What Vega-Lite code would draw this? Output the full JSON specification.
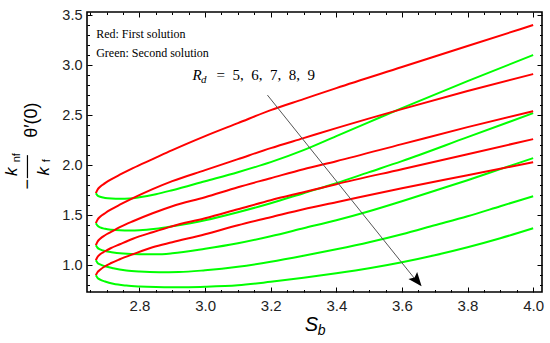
{
"$schema": "https://vega.github.io/schema/vega-lite/v6.json",
"width": 455, "height": 280,
"autosize": {"type": "none"},
"padding": {"left": 87, "top": 12, "right": 8, "bottom": 51},
"background": "white",
"config": {"view": {"stroke": "black", "strokeWidth": 1.6}},
"datasets": {
"curves": [
{"Rd":5,"branch":"First","Sb":2.667,"value":1.72},{"Rd":5,"branch":"First","Sb":2.672,"value":1.755},{"Rd":5,"branch":"First","Sb":2.68,"value":1.785},{"Rd":5,"branch":"First","Sb":2.695,"value":1.82},{"Rd":5,"branch":"First","Sb":2.712,"value":1.855},{"Rd":5,"branch":"First","Sb":2.74,"value":1.905},{"Rd":5,"branch":"First","Sb":2.78,"value":1.97},{"Rd":5,"branch":"First","Sb":2.84,"value":2.06},{"Rd":5,"branch":"First","Sb":2.9,"value":2.15},{"Rd":5,"branch":"First","Sb":3.0,"value":2.29},{"Rd":5,"branch":"First","Sb":3.1,"value":2.42},{"Rd":5,"branch":"First","Sb":3.2,"value":2.55},{"Rd":5,"branch":"First","Sb":3.3,"value":2.66},{"Rd":5,"branch":"First","Sb":3.4,"value":2.77},{"Rd":5,"branch":"First","Sb":3.6,"value":2.98},{"Rd":5,"branch":"First","Sb":3.8,"value":3.19},{"Rd":5,"branch":"First","Sb":4.0,"value":3.40},
{"Rd":5,"branch":"Second","Sb":2.667,"value":1.72},{"Rd":5,"branch":"Second","Sb":2.672,"value":1.697},{"Rd":5,"branch":"Second","Sb":2.68,"value":1.684},{"Rd":5,"branch":"Second","Sb":2.695,"value":1.673},{"Rd":5,"branch":"Second","Sb":2.715,"value":1.667},{"Rd":5,"branch":"Second","Sb":2.74,"value":1.665},{"Rd":5,"branch":"Second","Sb":2.77,"value":1.668},{"Rd":5,"branch":"Second","Sb":2.8,"value":1.68},{"Rd":5,"branch":"Second","Sb":2.85,"value":1.71},{"Rd":5,"branch":"Second","Sb":2.9,"value":1.75},{"Rd":5,"branch":"Second","Sb":3.0,"value":1.84},{"Rd":5,"branch":"Second","Sb":3.1,"value":1.93},{"Rd":5,"branch":"Second","Sb":3.2,"value":2.03},{"Rd":5,"branch":"Second","Sb":3.3,"value":2.15},{"Rd":5,"branch":"Second","Sb":3.4,"value":2.29},{"Rd":5,"branch":"Second","Sb":3.5,"value":2.43},{"Rd":5,"branch":"Second","Sb":3.6,"value":2.57},{"Rd":5,"branch":"Second","Sb":3.8,"value":2.84},{"Rd":5,"branch":"Second","Sb":4.0,"value":3.10},
{"Rd":6,"branch":"First","Sb":2.667,"value":1.42},{"Rd":6,"branch":"First","Sb":2.672,"value":1.455},{"Rd":6,"branch":"First","Sb":2.68,"value":1.485},{"Rd":6,"branch":"First","Sb":2.695,"value":1.52},{"Rd":6,"branch":"First","Sb":2.712,"value":1.555},{"Rd":6,"branch":"First","Sb":2.74,"value":1.605},{"Rd":6,"branch":"First","Sb":2.78,"value":1.67},{"Rd":6,"branch":"First","Sb":2.84,"value":1.76},{"Rd":6,"branch":"First","Sb":2.9,"value":1.84},{"Rd":6,"branch":"First","Sb":3.0,"value":1.95},{"Rd":6,"branch":"First","Sb":3.1,"value":2.06},{"Rd":6,"branch":"First","Sb":3.2,"value":2.17},{"Rd":6,"branch":"First","Sb":3.3,"value":2.27},{"Rd":6,"branch":"First","Sb":3.4,"value":2.37},{"Rd":6,"branch":"First","Sb":3.6,"value":2.56},{"Rd":6,"branch":"First","Sb":3.8,"value":2.74},{"Rd":6,"branch":"First","Sb":4.0,"value":2.91},
{"Rd":6,"branch":"Second","Sb":2.667,"value":1.42},{"Rd":6,"branch":"Second","Sb":2.672,"value":1.395},{"Rd":6,"branch":"Second","Sb":2.68,"value":1.378},{"Rd":6,"branch":"Second","Sb":2.695,"value":1.364},{"Rd":6,"branch":"Second","Sb":2.715,"value":1.355},{"Rd":6,"branch":"Second","Sb":2.74,"value":1.35},{"Rd":6,"branch":"Second","Sb":2.77,"value":1.348},{"Rd":6,"branch":"Second","Sb":2.8,"value":1.35},{"Rd":6,"branch":"Second","Sb":2.85,"value":1.365},{"Rd":6,"branch":"Second","Sb":2.9,"value":1.39},{"Rd":6,"branch":"Second","Sb":3.0,"value":1.45},{"Rd":6,"branch":"Second","Sb":3.1,"value":1.53},{"Rd":6,"branch":"Second","Sb":3.2,"value":1.62},{"Rd":6,"branch":"Second","Sb":3.3,"value":1.72},{"Rd":6,"branch":"Second","Sb":3.4,"value":1.82},{"Rd":6,"branch":"Second","Sb":3.5,"value":1.93},{"Rd":6,"branch":"Second","Sb":3.6,"value":2.04},{"Rd":6,"branch":"Second","Sb":3.8,"value":2.28},{"Rd":6,"branch":"Second","Sb":4.0,"value":2.52},
{"Rd":7,"branch":"First","Sb":2.667,"value":1.20},{"Rd":7,"branch":"First","Sb":2.672,"value":1.235},{"Rd":7,"branch":"First","Sb":2.68,"value":1.265},{"Rd":7,"branch":"First","Sb":2.695,"value":1.30},{"Rd":7,"branch":"First","Sb":2.712,"value":1.33},{"Rd":7,"branch":"First","Sb":2.74,"value":1.38},{"Rd":7,"branch":"First","Sb":2.78,"value":1.44},{"Rd":7,"branch":"First","Sb":2.84,"value":1.52},{"Rd":7,"branch":"First","Sb":2.9,"value":1.59},{"Rd":7,"branch":"First","Sb":3.0,"value":1.68},{"Rd":7,"branch":"First","Sb":3.1,"value":1.78},{"Rd":7,"branch":"First","Sb":3.2,"value":1.87},{"Rd":7,"branch":"First","Sb":3.3,"value":1.96},{"Rd":7,"branch":"First","Sb":3.4,"value":2.04},{"Rd":7,"branch":"First","Sb":3.6,"value":2.21},{"Rd":7,"branch":"First","Sb":3.8,"value":2.38},{"Rd":7,"branch":"First","Sb":4.0,"value":2.54},
{"Rd":7,"branch":"Second","Sb":2.667,"value":1.20},{"Rd":7,"branch":"Second","Sb":2.672,"value":1.175},{"Rd":7,"branch":"Second","Sb":2.68,"value":1.158},{"Rd":7,"branch":"Second","Sb":2.695,"value":1.142},{"Rd":7,"branch":"Second","Sb":2.715,"value":1.13},{"Rd":7,"branch":"Second","Sb":2.75,"value":1.117},{"Rd":7,"branch":"Second","Sb":2.8,"value":1.11},{"Rd":7,"branch":"Second","Sb":2.85,"value":1.11},{"Rd":7,"branch":"Second","Sb":2.9,"value":1.12},{"Rd":7,"branch":"Second","Sb":3.0,"value":1.165},{"Rd":7,"branch":"Second","Sb":3.1,"value":1.22},{"Rd":7,"branch":"Second","Sb":3.2,"value":1.29},{"Rd":7,"branch":"Second","Sb":3.3,"value":1.37},{"Rd":7,"branch":"Second","Sb":3.4,"value":1.45},{"Rd":7,"branch":"Second","Sb":3.5,"value":1.54},{"Rd":7,"branch":"Second","Sb":3.6,"value":1.64},{"Rd":7,"branch":"Second","Sb":3.7,"value":1.745},{"Rd":7,"branch":"Second","Sb":3.8,"value":1.85},{"Rd":7,"branch":"Second","Sb":3.9,"value":1.96},{"Rd":7,"branch":"Second","Sb":4.0,"value":2.07},
{"Rd":8,"branch":"First","Sb":2.667,"value":1.05},{"Rd":8,"branch":"First","Sb":2.672,"value":1.082},{"Rd":8,"branch":"First","Sb":2.68,"value":1.11},{"Rd":8,"branch":"First","Sb":2.695,"value":1.14},{"Rd":8,"branch":"First","Sb":2.712,"value":1.17},{"Rd":8,"branch":"First","Sb":2.74,"value":1.21},{"Rd":8,"branch":"First","Sb":2.78,"value":1.265},{"Rd":8,"branch":"First","Sb":2.84,"value":1.33},{"Rd":8,"branch":"First","Sb":2.9,"value":1.39},{"Rd":8,"branch":"First","Sb":3.0,"value":1.47},{"Rd":8,"branch":"First","Sb":3.1,"value":1.56},{"Rd":8,"branch":"First","Sb":3.2,"value":1.65},{"Rd":8,"branch":"First","Sb":3.3,"value":1.73},{"Rd":8,"branch":"First","Sb":3.4,"value":1.81},{"Rd":8,"branch":"First","Sb":3.6,"value":1.96},{"Rd":8,"branch":"First","Sb":3.8,"value":2.11},{"Rd":8,"branch":"First","Sb":4.0,"value":2.26},
{"Rd":8,"branch":"Second","Sb":2.667,"value":1.05},{"Rd":8,"branch":"Second","Sb":2.672,"value":1.025},{"Rd":8,"branch":"Second","Sb":2.68,"value":1.008},{"Rd":8,"branch":"Second","Sb":2.695,"value":0.99},{"Rd":8,"branch":"Second","Sb":2.72,"value":0.97},{"Rd":8,"branch":"Second","Sb":2.76,"value":0.948},{"Rd":8,"branch":"Second","Sb":2.8,"value":0.937},{"Rd":8,"branch":"Second","Sb":2.86,"value":0.93},{"Rd":8,"branch":"Second","Sb":2.92,"value":0.932},{"Rd":8,"branch":"Second","Sb":3.0,"value":0.95},{"Rd":8,"branch":"Second","Sb":3.1,"value":0.985},{"Rd":8,"branch":"Second","Sb":3.2,"value":1.035},{"Rd":8,"branch":"Second","Sb":3.3,"value":1.095},{"Rd":8,"branch":"Second","Sb":3.4,"value":1.16},{"Rd":8,"branch":"Second","Sb":3.5,"value":1.23},{"Rd":8,"branch":"Second","Sb":3.6,"value":1.31},{"Rd":8,"branch":"Second","Sb":3.7,"value":1.40},{"Rd":8,"branch":"Second","Sb":3.8,"value":1.49},{"Rd":8,"branch":"Second","Sb":3.9,"value":1.59},{"Rd":8,"branch":"Second","Sb":4.0,"value":1.69},
{"Rd":9,"branch":"First","Sb":2.667,"value":0.90},{"Rd":9,"branch":"First","Sb":2.672,"value":0.93},{"Rd":9,"branch":"First","Sb":2.68,"value":0.955},{"Rd":9,"branch":"First","Sb":2.695,"value":0.99},{"Rd":9,"branch":"First","Sb":2.712,"value":1.02},{"Rd":9,"branch":"First","Sb":2.74,"value":1.06},{"Rd":9,"branch":"First","Sb":2.78,"value":1.11},{"Rd":9,"branch":"First","Sb":2.84,"value":1.18},{"Rd":9,"branch":"First","Sb":2.9,"value":1.23},{"Rd":9,"branch":"First","Sb":3.0,"value":1.31},{"Rd":9,"branch":"First","Sb":3.1,"value":1.40},{"Rd":9,"branch":"First","Sb":3.2,"value":1.48},{"Rd":9,"branch":"First","Sb":3.3,"value":1.56},{"Rd":9,"branch":"First","Sb":3.4,"value":1.63},{"Rd":9,"branch":"First","Sb":3.6,"value":1.77},{"Rd":9,"branch":"First","Sb":3.8,"value":1.90},{"Rd":9,"branch":"First","Sb":4.0,"value":2.03},
{"Rd":9,"branch":"Second","Sb":2.667,"value":0.90},{"Rd":9,"branch":"Second","Sb":2.672,"value":0.875},{"Rd":9,"branch":"Second","Sb":2.68,"value":0.857},{"Rd":9,"branch":"Second","Sb":2.695,"value":0.838},{"Rd":9,"branch":"Second","Sb":2.72,"value":0.815},{"Rd":9,"branch":"Second","Sb":2.76,"value":0.797},{"Rd":9,"branch":"Second","Sb":2.8,"value":0.788},{"Rd":9,"branch":"Second","Sb":2.85,"value":0.782},{"Rd":9,"branch":"Second","Sb":2.9,"value":0.78},{"Rd":9,"branch":"Second","Sb":2.95,"value":0.781},{"Rd":9,"branch":"Second","Sb":3.0,"value":0.785},{"Rd":9,"branch":"Second","Sb":3.1,"value":0.80},{"Rd":9,"branch":"Second","Sb":3.2,"value":0.835},{"Rd":9,"branch":"Second","Sb":3.3,"value":0.875},{"Rd":9,"branch":"Second","Sb":3.4,"value":0.92},{"Rd":9,"branch":"Second","Sb":3.5,"value":0.97},{"Rd":9,"branch":"Second","Sb":3.6,"value":1.03},{"Rd":9,"branch":"Second","Sb":3.7,"value":1.10},{"Rd":9,"branch":"Second","Sb":3.8,"value":1.18},{"Rd":9,"branch":"Second","Sb":3.9,"value":1.27},{"Rd":9,"branch":"Second","Sb":4.0,"value":1.37}
],
"notes": [
{"id":"leg","text":"Red: First solution","Sb":2.668,"value":3.267},
{"id":"leg","text":"Green: Second solution","Sb":2.668,"value":3.083},
{"id":"R","text":"R","Sb":2.9616,"value":2.85},
{"id":"d","text":"d","Sb":2.9875,"value":2.82},
{"id":"eq","text":"=\u00a0\u00a05,\u00a0\u00a06,\u00a0\u00a07,\u00a0\u00a08,\u00a0\u00a09","Sb":3.0348,"value":2.85},
{"id":"S","text":"S","Sb":3.3244,"value":0.40},
{"id":"b","text":"b","Sb":3.3549,"value":0.34},
{"id":"theta","text":"θ′(0)","Sb":2.4722,"value":2.45},
{"id":"minus","text":"−","Sb":2.4616,"value":1.81},
{"id":"k","text":"k","Sb":2.4113,"value":1.935},
{"id":"k","text":"k","Sb":2.5104,"value":1.94},
{"id":"sub","text":"nf","Sb":2.428,"value":2.075},
{"id":"sub","text":"f","Sb":2.5195,"value":2.045}
],
"dummy": [{"Sb":3.0,"value":2.0}]
},
"encoding": {
"x": {"field":"Sb","type":"quantitative","scale":{"domain":[2.64,4.027],"nice":false,"zero":false},"axis":null},
"y": {"field":"value","type":"quantitative","scale":{"domain":[0.733,3.53],"nice":false,"zero":false},"axis":null}
},
"resolve": {"axis": {"x":"independent","y":"independent"}},
"layer": [
{"data":{"name":"curves"},
 "mark":{"type":"line","strokeWidth":2,"interpolate":"monotone"},
 "encoding":{
  "x":{"field":"Sb","type":"quantitative","scale":{"domain":[2.64,4.027],"nice":false,"zero":false},
   "axis":{"orient":"bottom","values":[2.8,3.0,3.2,3.4,3.6,3.8,4.0],"format":".1f","tickSize":-5,"tickColor":"black","tickWidth":1,"domain":false,"grid":false,"labelFont":"Liberation Sans","labelFontSize":15,"labelColor":"#222","labelPadding":11,"title":null}},
  "y":{"field":"value","type":"quantitative","scale":{"domain":[0.733,3.53],"nice":false,"zero":false},
   "axis":{"orient":"left","values":[1.0,1.5,2.0,2.5,3.0,3.5],"format":".1f","tickSize":-5,"tickColor":"black","tickWidth":1,"domain":false,"grid":false,"labelFont":"Liberation Sans","labelFontSize":14.5,"labelColor":"#222","labelPadding":10,"title":null}},
  "color":{"field":"branch","type":"nominal","scale":{"domain":["First","Second"],"range":["#ff0000","#00ff00"]},"legend":null},
  "detail":{"field":"Rd","type":"nominal"}
 }},
{"data":{"name":"dummy"},"mark":{"type":"point","opacity":0},
 "encoding":{
  "x":{"field":"Sb","type":"quantitative","scale":{"domain":[2.64,4.027],"nice":false,"zero":false},
   "axis":{"orient":"bottom","values":[2.65,2.7,2.75,2.85,2.9,2.95,3.05,3.1,3.15,3.25,3.3,3.35,3.45,3.5,3.55,3.65,3.7,3.75,3.85,3.9,3.95],"tickSize":-2.5,"tickColor":"black","tickWidth":1,"domain":false,"grid":false,"labels":false,"title":null}},
  "y":{"field":"value","type":"quantitative","scale":{"domain":[0.733,3.53],"nice":false,"zero":false},
   "axis":{"orient":"left","values":[0.8,0.9,1.1,1.2,1.3,1.4,1.6,1.7,1.8,1.9,2.1,2.2,2.3,2.4,2.6,2.7,2.8,2.9,3.1,3.2,3.3,3.4],"tickSize":-2.5,"tickColor":"black","tickWidth":1,"domain":false,"grid":false,"labels":false,"title":null}}
 }},
{"data":{"name":"dummy"},"mark":{"type":"point","opacity":0},
 "encoding":{
  "x":{"field":"Sb","type":"quantitative","scale":{"domain":[2.64,4.027],"nice":false,"zero":false},
   "axis":{"orient":"top","values":[2.8,3.0,3.2,3.4,3.6,3.8,4.0],"tickSize":-5,"tickColor":"black","tickWidth":1,"domain":false,"grid":false,"labels":false,"title":null}},
  "y":{"field":"value","type":"quantitative","scale":{"domain":[0.733,3.53],"nice":false,"zero":false},
   "axis":{"orient":"right","values":[1.0,1.5,2.0,2.5,3.0,3.5],"tickSize":-5,"tickColor":"black","tickWidth":1,"domain":false,"grid":false,"labels":false,"title":null}}
 }},
{"data":{"name":"dummy"},"mark":{"type":"point","opacity":0},
 "encoding":{
  "x":{"field":"Sb","type":"quantitative","scale":{"domain":[2.64,4.027],"nice":false,"zero":false},
   "axis":{"orient":"top","values":[2.65,2.7,2.75,2.85,2.9,2.95,3.05,3.1,3.15,3.25,3.3,3.35,3.45,3.5,3.55,3.65,3.7,3.75,3.85,3.9,3.95],"tickSize":-2.5,"tickColor":"black","tickWidth":1,"domain":false,"grid":false,"labels":false,"title":null}},
  "y":{"field":"value","type":"quantitative","scale":{"domain":[0.733,3.53],"nice":false,"zero":false},
   "axis":{"orient":"right","values":[0.8,0.9,1.1,1.2,1.3,1.4,1.6,1.7,1.8,1.9,2.1,2.2,2.3,2.4,2.6,2.7,2.8,2.9,3.1,3.2,3.3,3.4],"tickSize":-2.5,"tickColor":"black","tickWidth":1,"domain":false,"grid":false,"labels":false,"title":null}}
 }},
{"data":{"values":[{"Sb":3.19,"value":2.70,"Sb2":3.655,"value2":0.80}]},
 "mark":{"type":"rule","color":"#555","strokeWidth":1},
 "encoding":{"x2":{"field":"Sb2"},"y2":{"field":"value2"}}},
{"data":{"values":[{"Sb":3.66,"value":0.79}]},
 "mark":{"type":"point","shape":"M0,0L0.4,1L0,0.8L-0.4,1Z","filled":true,"color":"black","size":784,"angle":141,"opacity":1,"strokeWidth":0}},
{"data":{"name":"notes"},"transform":[{"filter":"datum.id==='leg'"}],
 "mark":{"type":"text","font":"Liberation Serif","fontSize":12,"align":"left","baseline":"alphabetic","color":"black"},
 "encoding":{"text":{"field":"text"}}},
{"data":{"name":"notes"},"transform":[{"filter":"datum.id==='R'"}],
 "mark":{"type":"text","font":"Liberation Serif","fontStyle":"italic","fontSize":15,"align":"left","baseline":"alphabetic","color":"black"},
 "encoding":{"text":{"field":"text"}}},
{"data":{"name":"notes"},"transform":[{"filter":"datum.id==='d'"}],
 "mark":{"type":"text","font":"Liberation Serif","fontStyle":"italic","fontSize":11,"align":"left","baseline":"alphabetic","color":"black"},
 "encoding":{"text":{"field":"text"}}},
{"data":{"name":"notes"},"transform":[{"filter":"datum.id==='eq'"}],
 "mark":{"type":"text","font":"Liberation Serif","fontSize":15,"align":"left","baseline":"alphabetic","color":"black"},
 "encoding":{"text":{"field":"text"}}},
{"data":{"name":"notes"},"transform":[{"filter":"datum.id==='S'"}],
 "mark":{"type":"text","font":"Liberation Sans","fontStyle":"italic","fontSize":20,"align":"center","baseline":"middle","color":"black"},
 "encoding":{"text":{"field":"text"}}},
{"data":{"name":"notes"},"transform":[{"filter":"datum.id==='b'"}],
 "mark":{"type":"text","font":"Liberation Sans","fontStyle":"italic","fontSize":14,"align":"center","baseline":"middle","color":"black"},
 "encoding":{"text":{"field":"text"}}},
{"data":{"name":"notes"},"transform":[{"filter":"datum.id==='theta' || datum.id==='minus'"}],
 "mark":{"type":"text","font":"Liberation Sans","fontSize":18,"angle":270,"align":"center","baseline":"middle","color":"black"},
 "encoding":{"text":{"field":"text"}}},
{"data":{"name":"notes"},"transform":[{"filter":"datum.id==='k'"}],
 "mark":{"type":"text","font":"Liberation Sans","fontStyle":"italic","fontSize":17,"angle":270,"align":"center","baseline":"middle","color":"black"},
 "encoding":{"text":{"field":"text"}}},
{"data":{"name":"notes"},"transform":[{"filter":"datum.id==='sub'"}],
 "mark":{"type":"text","font":"Liberation Sans","fontSize":11,"angle":270,"align":"center","baseline":"middle","color":"black"},
 "encoding":{"text":{"field":"text"}}},
{"data":{"values":[{"Sb":2.4585,"value":2.10,"value2":1.87}]},
 "mark":{"type":"rule","color":"black","strokeWidth":1.2},
 "encoding":{"y2":{"field":"value2"}}}
]
}
